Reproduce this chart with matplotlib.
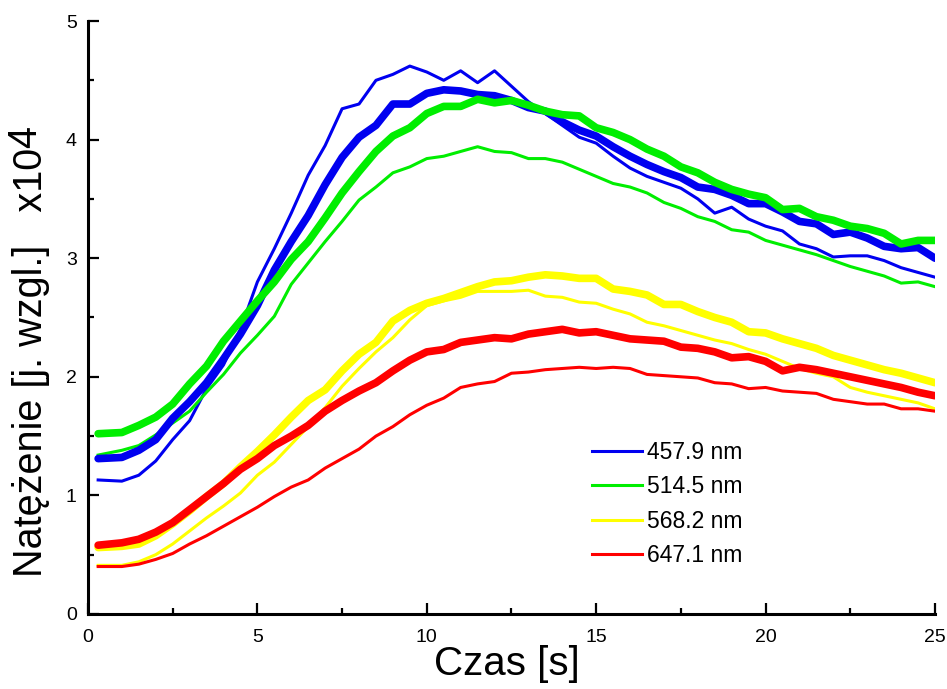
import matplotlib
matplotlib.use("Agg")
import matplotlib.pyplot as plt
import numpy as np
from matplotlib.lines import Line2D
from matplotlib.ticker import MultipleLocator

plt.rcParams['font.family'] = ['Liberation Sans', 'DejaVu Sans']

# === Data (intensity in units of 1e4) ===
czas = np.concatenate(([0.3], np.arange(1.0, 25.01, 0.5)))

b_thin = [1.13, 1.12, 1.17, 1.29, 1.47, 1.63, 1.90, 2.10, 2.40, 2.80,
          3.08, 3.38, 3.70, 3.95, 4.26, 4.30, 4.50, 4.55, 4.62, 4.57,
          4.50, 4.58, 4.48, 4.58, 4.45, 4.32, 4.22, 4.12, 4.02, 3.97,
          3.86, 3.76, 3.69, 3.64, 3.59, 3.50, 3.38, 3.43, 3.33, 3.27,
          3.23, 3.12, 3.08, 3.01, 3.02, 3.02, 2.98, 2.92, 2.88, 2.84]
b_thick = [1.31, 1.32, 1.38, 1.47, 1.65, 1.79, 1.95, 2.15, 2.36, 2.60,
           2.90, 3.14, 3.36, 3.62, 3.85, 4.02, 4.12, 4.30, 4.30, 4.39,
           4.42, 4.41, 4.38, 4.37, 4.33, 4.27, 4.24, 4.15, 4.08, 4.03,
           3.94, 3.86, 3.79, 3.73, 3.68, 3.60, 3.58, 3.53, 3.46, 3.46,
           3.39, 3.31, 3.29, 3.20, 3.22, 3.17, 3.10, 3.08, 3.09, 3.00]
g_thin = [1.34, 1.38, 1.42, 1.51, 1.61, 1.71, 1.87, 2.02, 2.20, 2.35,
          2.51, 2.78, 2.96, 3.14, 3.31, 3.49, 3.60, 3.72, 3.77, 3.84,
          3.86, 3.90, 3.94, 3.90, 3.89, 3.84, 3.84, 3.81, 3.75, 3.69,
          3.63, 3.60, 3.55, 3.47, 3.42, 3.35, 3.31, 3.24, 3.22, 3.15,
          3.11, 3.07, 3.03, 2.98, 2.93, 2.89, 2.85, 2.79, 2.80, 2.76]
g_thick = [1.52, 1.53, 1.59, 1.66, 1.77, 1.94, 2.09, 2.30, 2.47, 2.64,
           2.80, 2.99, 3.14, 3.34, 3.55, 3.73, 3.90, 4.03, 4.10, 4.22,
           4.28, 4.28, 4.34, 4.31, 4.33, 4.29, 4.24, 4.21, 4.20, 4.10,
           4.06, 4.00, 3.92, 3.86, 3.77, 3.72, 3.64, 3.58, 3.54, 3.51,
           3.41, 3.42, 3.35, 3.32, 3.27, 3.25, 3.21, 3.12, 3.15, 3.15]
y_thin = [0.41, 0.41, 0.44, 0.50, 0.59, 0.70, 0.81, 0.91, 1.02, 1.17,
          1.28, 1.43, 1.58, 1.74, 1.92, 2.07, 2.21, 2.33, 2.48, 2.60,
          2.64, 2.67, 2.72, 2.72, 2.72, 2.73, 2.68, 2.67, 2.63, 2.62,
          2.57, 2.53, 2.46, 2.43, 2.39, 2.35, 2.31, 2.28, 2.23, 2.19,
          2.13, 2.07, 2.03, 2.00, 1.91, 1.87, 1.84, 1.81, 1.78, 1.73]
y_thick = [0.56, 0.57, 0.59, 0.66, 0.76, 0.87, 0.99, 1.10, 1.24, 1.37,
           1.51, 1.66, 1.80, 1.89, 2.05, 2.19, 2.29, 2.47, 2.56, 2.62,
           2.66, 2.71, 2.76, 2.80, 2.81, 2.84, 2.86, 2.85, 2.83, 2.83,
           2.74, 2.72, 2.69, 2.61, 2.61, 2.55, 2.50, 2.46, 2.38, 2.37,
           2.32, 2.28, 2.24, 2.18, 2.14, 2.10, 2.06, 2.03, 1.99, 1.95]
r_thin = [0.40, 0.40, 0.42, 0.46, 0.51, 0.59, 0.66, 0.74, 0.82, 0.90,
          0.99, 1.07, 1.13, 1.23, 1.31, 1.39, 1.50, 1.58, 1.68, 1.76,
          1.82, 1.91, 1.94, 1.96, 2.03, 2.04, 2.06, 2.07, 2.08, 2.07,
          2.08, 2.07, 2.02, 2.01, 2.00, 1.99, 1.95, 1.94, 1.90, 1.91,
          1.88, 1.87, 1.86, 1.81, 1.79, 1.77, 1.77, 1.73, 1.73, 1.71]
r_thick = [0.58, 0.60, 0.63, 0.69, 0.77, 0.88, 0.99, 1.10, 1.22, 1.31,
           1.42, 1.50, 1.59, 1.71, 1.80, 1.88, 1.95, 2.05, 2.14, 2.21,
           2.23, 2.29, 2.31, 2.33, 2.32, 2.36, 2.38, 2.40, 2.37, 2.38,
           2.35, 2.32, 2.31, 2.30, 2.25, 2.24, 2.21, 2.16, 2.17, 2.13,
           2.05, 2.08, 2.06, 2.03, 2.00, 1.97, 1.94, 1.91, 1.87, 1.84]

labels = ['457.9 nm', '514.5 nm', '568.2 nm', '647.1 nm']
colors = ['#0000f0', '#00ee00', '#ffff00', '#ff0000']

# === Plot ===
fig = plt.figure(figsize=(9.47, 6.89), dpi=100)
ax = fig.add_axes([0.0929, 0.1089, 0.8944, 0.8606])

thin = [b_thin, g_thin, y_thin, r_thin]
thick = [b_thick, g_thick, y_thick, r_thick]
for vals, c in zip(thin, colors):
    ax.plot(czas, vals, color=c, lw=2.2)
for vals, c in zip(thick, colors):
    ax.plot(czas, vals, color=c, lw=5.5, solid_capstyle='round')

ax.set_xlim(0, 25)
ax.set_ylim(0, 5)
ax.xaxis.set_major_locator(MultipleLocator(5))
ax.xaxis.set_minor_locator(MultipleLocator(2.5))
ax.yaxis.set_major_locator(MultipleLocator(1))
ax.yaxis.set_minor_locator(MultipleLocator(0.5))

for side in ['top', 'right']:
    ax.spines[side].set_visible(False)
for side in ['left', 'bottom']:
    ax.spines[side].set_linewidth(2.2)

ax.tick_params(which='major', direction='in', length=8, width=1.6, labelsize=14)
ax.tick_params(which='minor', direction='in', length=4, width=1.6)
ax.tick_params(axis='x', which='major', pad=11)
ax.tick_params(axis='y', which='major', pad=8)

handles = [Line2D([], [], color=c, lw=2.2) for c in colors]
ax.legend(handles, labels, loc='center left', bbox_to_anchor=(0.581, 0.1855),
          frameon=False, fontsize=16.5, handlelength=2.2, handletextpad=0.2,
          labelspacing=0.5, borderpad=0)

fig.text(507 / 947, 1 - 664 / 689, 'Czas [s]', fontsize=29, ha='center', va='center')
ylab = fig.text(31 / 947, 1 - 577 / 689, 'Natężenie [j. wzgl.]   x10', fontsize=28.5,
                rotation=90, ha='center', va='bottom')
# exponent "4" sits right after "x10", nudged upwards like a superscript
ax.annotate('4', xy=(0.5, 1.0), xycoords=ylab, xytext=(-4, 0),
            textcoords='offset points', fontsize=28.5, rotation=90,
            ha='center', va='bottom', annotation_clip=False)

fig.savefig('out.png', dpi=100)
